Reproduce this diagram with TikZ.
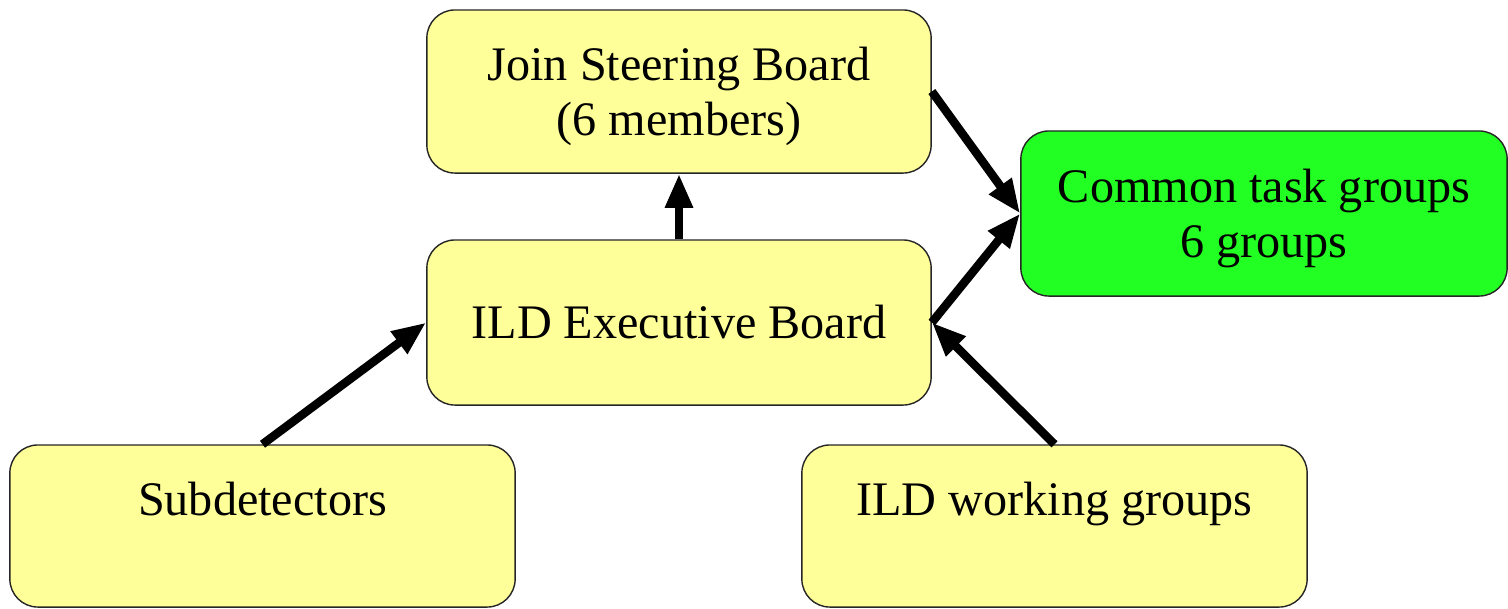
\documentclass[tikz,border=0pt]{standalone}
\usepackage{fontspec}
\setmainfont{Liberation Serif}
\usetikzlibrary{arrows.meta}
\definecolor{boxyellow}{HTML}{FFFF99}
\definecolor{boxgreen}{HTML}{22FF22}
\tikzset{
  orgbox/.style={draw=black!85, line width=0.4pt, rounded corners=0.28cm,
    fill=boxyellow, inner sep=0pt, align=center,
    font=\fontsize{13.7}{15.65}\selectfont},
  flow/.style={line width=0.085cm, -{Triangle[length=0.34cm,width=0.26cm]}}
}
\begin{document}
\begin{tikzpicture}[x=0.01cm,y=-0.01cm]
\useasboundingbox (0,0) rectangle (1508,608);
\node[orgbox, text depth=0pt, minimum width=5.04cm, minimum height=1.63cm] (jsb) at (679,91.5)
  {Join Steering Board\\(6 members)};
\node[orgbox, minimum width=5.04cm, minimum height=1.65cm] (exec) at (679,322.5)
  {ILD Executive Board};
\node[orgbox, text depth=0pt, fill=boxgreen, minimum width=4.86cm, minimum height=1.65cm] (ctg) at (1264,213.5)
  {Common task groups\\6 groups};
\node[orgbox, minimum width=5.05cm, minimum height=1.62cm] (sub) at (262.5,526)
  {Subdetectors\\\mbox{}};
\node[orgbox, minimum width=5.05cm, minimum height=1.62cm] (wg) at (1054.5,526)
  {ILD working groups\\\mbox{}};
\draw[flow] (exec.north) -- (jsb.south);
\draw[flow] (sub.north) -- (exec.west);
\draw[flow] (wg.north) -- (exec.east);
\draw[flow] (exec.east) -- (ctg.west);
\draw[flow] (jsb.east) -- (ctg.west);
\end{tikzpicture}
\end{document}
